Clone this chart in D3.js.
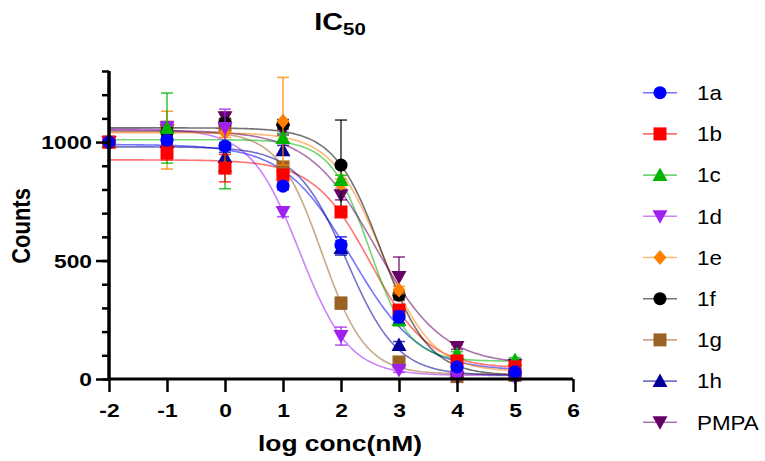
<!DOCTYPE html>
<html><head><meta charset="utf-8">
<script src="https://cdn.jsdelivr.net/npm/d3@7"></script>
<style>
body{margin:0;background:#fff}
text{font-family:Arial,"Liberation Sans",sans-serif}
</style>
</head><body>
<svg id="chart" width="765" height="461"></svg>
<script>
// ---------- data ----------
const xValues = [-2, -1, 0, 1, 2, 3, 4, 5];           // log conc (nM)
const seriesNames = ["1a", "1b", "1c", "1d", "1e", "1f", "1g", "1h", "PMPA"];

const counts_1a   = [1000, 1008, 983, 814, 565, 262, 51, 30];
const counts_1b   = [1000, 955, 890, 861, 705, 291, 76, 51];
const counts_1c   = [1000, 1059, 898, 1017, 840, 249, 105, 80];
const counts_1d   = [1000, 1063, 1059, 705, 181, 38, 8, 5];
const counts_1e   = [1000, 1008, 1040, 1088, 825, 376, 40, 30];
const counts_1f   = [1000, 1040, 1080, 1075, 903, 354, 25, 15];
const counts_1g   = [1000, 1063, 1072, 895, 320, 72, 10, 15];
const counts_1h   = [1000, 1000, 937, 966, 553, 143, 30, 20];
const counts_PMPA = [1000, 1050, 1105, 1050, 776, 430, 135, 60];

const err_1a   = [10, 15, 15, 15, 35, 25, 10, 10];
const err_1b   = [10, 30, 58, 20, 20, 20, 10, 10];
const err_1c   = [10, 148, 95, 20, 20, 25, 10, 10];
const err_1d   = [10, 20, 80, 20, 38, 10, 5, 5];
const err_1e   = [10, 122, 20, 185, 20, 15, 10, 10];
const err_1f   = [10, 20, 20, 20, 190, 20, 10, 10];
const err_1g   = [10, 20, 20, 20, 25, 15, 5, 5];
const err_1h   = [10, 20, 20, 20, 30, 15, 5, 5];
const err_PMPA = [10, 20, 20, 20, 20, 85, 10, 10];

// four-parameter logistic fit parameters (one entry per series)
const fitTop     = [990, 925, 1010, 1055, 1040, 1060, 1045, 980, 1050];
const fitBottom  = [35, 45, 75, 15, 30, 15, 20, 15, 60];
const fitLogIC50 = [2.18, 2.52, 2.5, 1.29, 2.7, 2.7, 1.67, 2.1, 2.6];
const fitHill    = [0.75, 0.88, 1.28, 1.02, 1.0, 1.07, 1.15, 1.0, 0.75];

const xTickValues = [-2, -1, 0, 1, 2, 3, 4, 5, 6];
const yMajorTicks = [0, 500, 1000];
const yMinorTicks = [0, 100, 200, 300, 400, 500, 600, 700, 800, 900, 1000, 1100, 1200, 1300];

const allCounts = [counts_1a, counts_1b, counts_1c, counts_1d, counts_1e, counts_1f, counts_1g, counts_1h, counts_PMPA];
const allErrors = [err_1a, err_1b, err_1c, err_1d, err_1e, err_1f, err_1g, err_1h, err_PMPA];

// ---------- styles ----------
const colors = ["#0000FF", "#FF0000", "#00B400", "#A020F0", "#FF8000", "#000000", "#9A6324", "#000099", "#660066"];
const shapes = ["circle", "square", "triangle", "triangleDown", "diamond", "circle", "square", "triangle", "triangleDown"];

const svg = d3.select("#chart");
const x = d3.scaleLinear().domain([-2, 6]).range([109, 573]);
const y = d3.scaleLinear().domain([0, 1300]).range([379, 71]);
const SX = 1.2; // horizontal text stretch seen in the reference
const fmt = d => (d < 0 ? "-" + (-d) : String(d));

function shapePath(s) {
  switch (s) {
    case "circle": return d3.symbol(d3.symbolCircle, 135)();
    case "square": return "M-6.5,-6.5H6.5V6.5H-6.5Z";
    case "triangle": return "M0,-7.5L7.5,6L-7.5,6Z";
    case "triangleDown": return "M0,7.5L7.5,-6L-7.5,-6Z";
    case "diamond": return "M0,-7.5L6.5,0L0,7.5L-6.5,0Z";
  }
}

const series = seriesNames.map((name, i) => ({
  name, color: colors[i], shape: shapes[i],
  points: xValues.map((xv, j) => ({x: xv, y: allCounts[i][j], e: allErrors[i][j]})),
  top: fitTop[i], bottom: fitBottom[i], logIC50: fitLogIC50[i], hill: fitHill[i]
}));

// ---------- fitted curves ----------
const fitX = d3.range(-2, 5.0001, 0.035);
const line = d3.line().x(d => x(d[0])).y(d => y(d[1]));
svg.append("g").selectAll("path").data(series).join("path")
  .attr("fill", "none")
  .attr("stroke", d => d.color)
  .attr("stroke-opacity", 0.55)
  .attr("stroke-width", 1.6)
  .attr("d", s => line(fitX.map(xv => [xv, s.bottom + (s.top - s.bottom) / (1 + Math.pow(10, s.hill * (xv - s.logIC50)))])));

// ---------- error bars and markers (last series drawn first) ----------
const ptsG = svg.append("g");
series.slice().reverse().forEach(s => {
  const g = ptsG.append("g");
  const eb = g.selectAll("g.eb").data(s.points).join("g").attr("class", "eb")
    .attr("stroke", s.color).attr("stroke-opacity", 0.75).attr("stroke-width", 1.6);
  eb.append("line").attr("x1", d => x(d.x)).attr("x2", d => x(d.x))
    .attr("y1", d => y(d.y - d.e)).attr("y2", d => y(d.y + d.e));
  eb.append("line").attr("x1", d => x(d.x) - 6).attr("x2", d => x(d.x) + 6)
    .attr("y1", d => y(d.y + d.e)).attr("y2", d => y(d.y + d.e));
  eb.append("line").attr("x1", d => x(d.x) - 6).attr("x2", d => x(d.x) + 6)
    .attr("y1", d => y(d.y - d.e)).attr("y2", d => y(d.y - d.e));
  g.selectAll("path").data(s.points).join("path")
    .attr("d", shapePath(s.shape))
    .attr("transform", d => `translate(${x(d.x)},${y(d.y)})`)
    .attr("fill", s.color);
});

// ---------- axes ----------
const yMinor = svg.append("g").attr("transform", "translate(109,0)")
  .call(d3.axisLeft(y).tickValues(yMinorTicks).tickSize(7).tickFormat(""));
const yMajor = svg.append("g").attr("transform", "translate(109,0)")
  .call(d3.axisLeft(y).tickValues(yMajorTicks).tickSize(13).tickPadding(4).tickFormat(fmt));
const xAxis = svg.append("g").attr("transform", "translate(0,379)")
  .call(d3.axisBottom(x).tickValues(xTickValues).tickSize(13).tickFormat(fmt));

[yMinor, yMajor, xAxis].forEach(a => {
  a.select(".domain").attr("stroke-width", 3).attr("stroke", "#000");
  a.selectAll(".tick line").attr("stroke-width", 2.5).attr("stroke", "#000");
});
yMinor.select(".domain").attr("d", `M0,${y(1300)}V${y(0)}`);
yMajor.select(".domain").attr("d", `M0,${y(1300)}V${y(0)}`);
xAxis.select(".domain").attr("d", `M${x(-2)},0H${x(6)}`);

yMajor.selectAll(".tick text")
  .attr("font-size", 19).attr("font-weight", "bold").attr("fill", "#000")
  .attr("x", -17 / SX).attr("dy", "0.36em")
  .attr("transform", `scale(${SX},1)`);
xAxis.selectAll(".tick text")
  .attr("font-size", 19).attr("font-weight", "bold").attr("fill", "#000")
  .attr("y", 25).attr("dy", "0.71em")
  .attr("transform", `scale(${SX},1)`);

// ---------- titles ----------
const title = svg.append("text")
  .attr("transform", `translate(340,30) scale(${SX},1)`)
  .attr("text-anchor", "middle").attr("font-weight", "bold").attr("font-size", 24);
title.append("tspan").text("IC");
title.append("tspan").attr("font-size", 17).attr("dy", 5).text("50");

svg.append("text")
  .attr("transform", `translate(340,451) scale(${SX},1)`)
  .attr("text-anchor", "middle").attr("font-weight", "bold").attr("font-size", 22)
  .text("log conc(nM)");

svg.append("text")
  .attr("transform", `translate(30,226) scale(${SX},1) rotate(-90)`)
  .attr("text-anchor", "middle").attr("font-weight", "bold").attr("font-size", 22)
  .text("Counts");

// ---------- legend ----------
const legend = svg.append("g").selectAll("g").data(series).join("g")
  .attr("transform", (d, i) => `translate(0,${92.7 + i * 41.2})`);
legend.append("line").attr("x1", 643).attr("x2", 677)
  .attr("stroke", d => d.color).attr("stroke-opacity", 0.55).attr("stroke-width", 1.6);
legend.append("path").attr("d", d => shapePath(d.shape))
  .attr("transform", "translate(660,0)").attr("fill", d => d.color);
legend.append("text")
  .attr("transform", `translate(697,0) scale(1.12,1)`)
  .attr("dy", "0.36em").attr("font-size", 20).attr("fill", "#000")
  .text(d => d.name);
</script>
</body></html>
